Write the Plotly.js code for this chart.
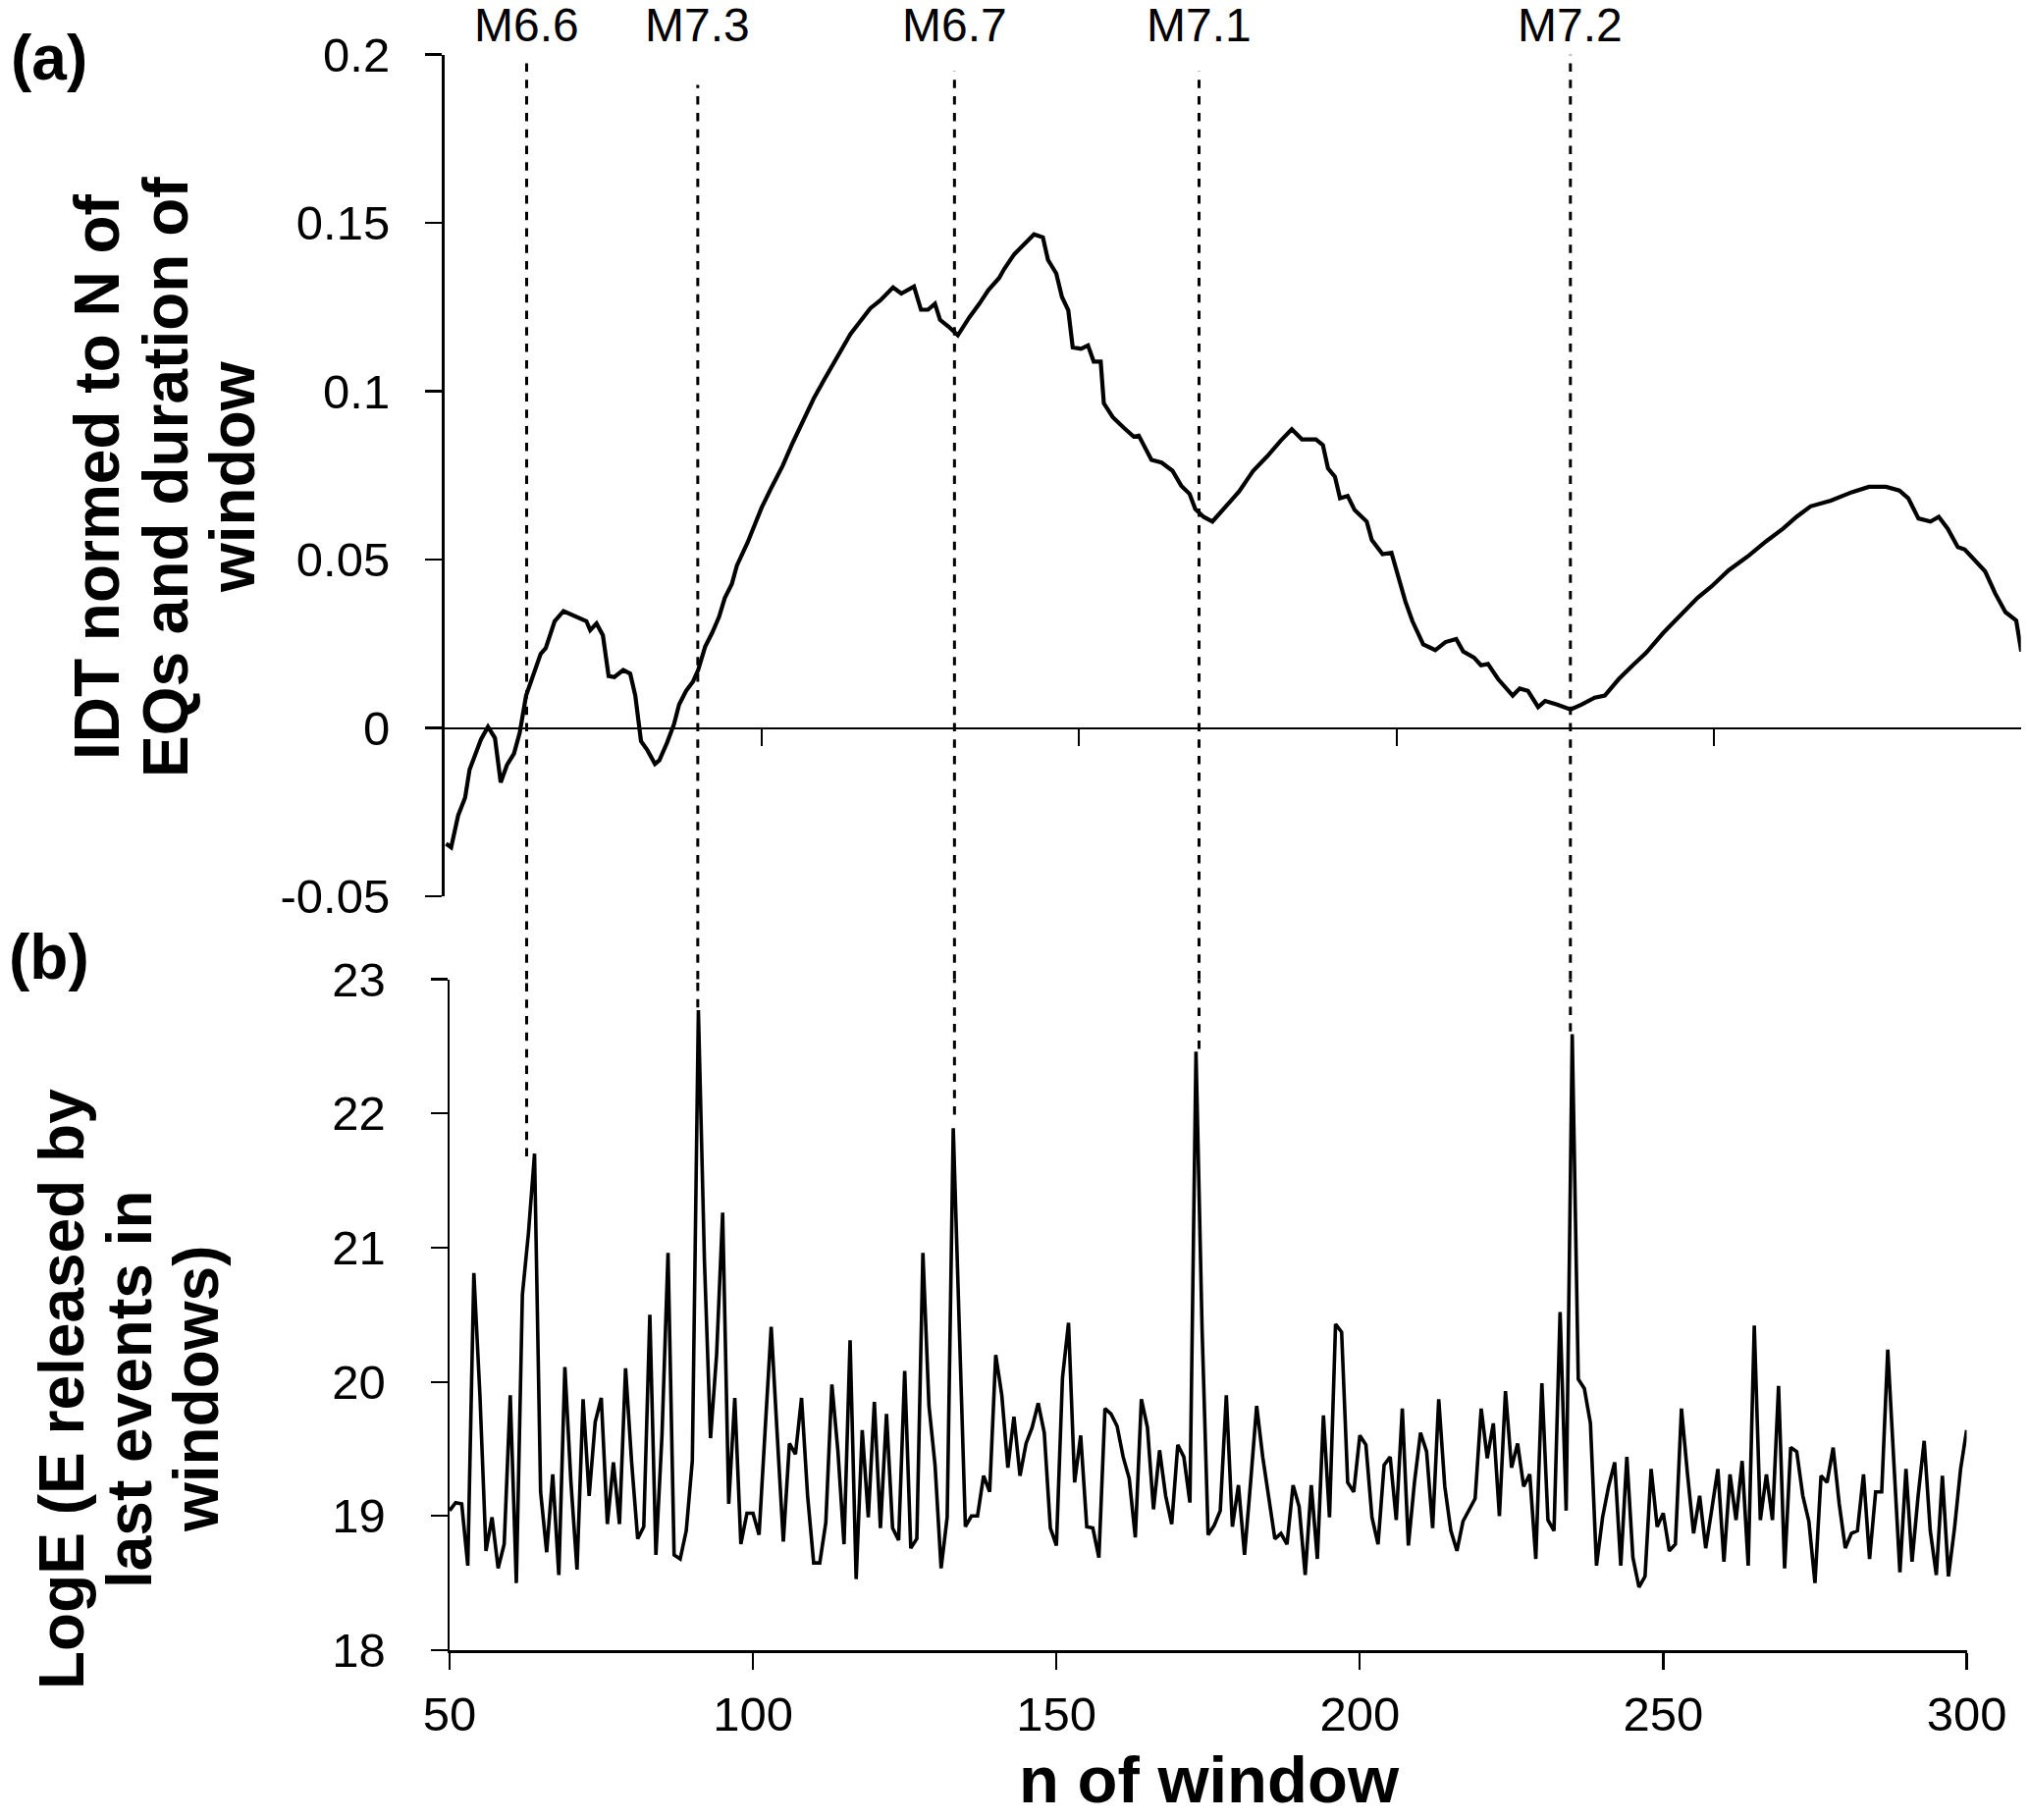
<!DOCTYPE html>
<html>
<head>
<meta charset="utf-8">
<script src="https://cdn.plot.ly/plotly-3.0.1.min.js"></script>
<style>html,body{margin:0;padding:0;background:#fff;}</style>
</head>
<body>
<div id="chart"></div>
<script>
// (a) IDT normed to N of EQs and duration of window (digitised: window n, value)
const idtWindow = [
50.3,51.1,52.2,53.3,54.0,55.0,55.8,56.9,58.0,58.9,59.9,61.0,61.9,62.9,64.1,65.2,66.0,67.4,68.8,70.7,
72.4,73.0,74.0,75.0,75.9,76.8,78.2,79.3,80.1,81.0,82.0,83.2,83.9,85.1,86.2,87.0,88.1,89.2,90.0,91.1,
92.2,93.3,94.2,95.3,96.1,97.8,100.0,101.6,103.3,104.9,106.6,108.2,109.9,111.8,114.0,117.1,118.7,120.7,122.0,124.0,
125.1,126.2,127.3,128.1,129.5,130.9,132.7,134.3,135.7,137.4,138.2,139.8,141.5,142.9,144.3,145.1,146.4,147.3,148.3,149.0,
150.3,151.4,152.3,153.4,153.9,155.3,157.0,158.6,159.4,161.4,163.0,164.7,166.1,167.4,168.3,169.6,171.0,173.0,175.2,177.4,
179.6,181.8,183.5,185.1,187.3,188.4,189.2,190.3,191.1,192.3,193.4,195.3,196.1,197.8,199.2,201.4,202.5,204.2,206.1,207.7,
209.4,210.5,212.2,213.3,214.4,216.0,216.7,218.3,219.4,220.7,222.3,223.4,225.3,227.4,229.1,231.2,232.8,235.0,237.2,239.3,
242.0,244.2,247.4,249.6,252.3,255.5,258.2,260.9,263.0,265.2,268.4,271.7,274.4,277.1,279.2,280.6,282.2,284.1,285.4,286.8,
288.4,289.5,291.1,292.7,294.3,295.9,297.6,298.4
];
const idtValue = [
-0.0344,-0.0355,-0.0260,-0.0207,-0.0124,-0.0076,-0.0034,0.0003,-0.0030,-0.0162,-0.0110,-0.0076,-0.0014,0.0096,0.0165,0.0220,0.0237,0.0317,0.0347,0.0330,
0.0317,0.0290,0.0310,0.0275,0.0154,0.0151,0.0172,0.0161,0.0096,-0.0039,-0.0066,-0.0107,-0.0096,-0.0044,0.0011,0.0069,0.0110,0.0138,0.0172,0.0241,
0.0282,0.0330,0.0386,0.0427,0.0482,0.0551,0.0654,0.0716,0.0778,0.0847,0.0916,0.0978,0.1036,0.1100,0.1170,0.1246,0.1270,0.1308,0.1290,0.1311,
0.1242,0.1242,0.1260,0.1212,0.1191,0.1166,0.1219,0.1260,0.1300,0.1336,0.1363,0.1407,0.1439,0.1466,0.1457,0.1390,0.1350,0.1280,0.1240,0.1130,
0.1126,0.1136,0.1088,0.1088,0.0964,0.0923,0.0892,0.0865,0.0868,0.0796,0.0788,0.0764,0.0719,0.0695,0.0650,0.0627,0.0613,0.0654,0.0702,0.0763,
0.0806,0.0854,0.0887,0.0857,0.0857,0.0840,0.0771,0.0746,0.0682,0.0689,0.0647,0.0613,0.0558,0.0516,0.0520,0.0375,0.0317,0.0248,0.0231,0.0255,
0.0264,0.0227,0.0209,0.0186,0.0190,0.0145,0.0131,0.0096,0.0117,0.0110,0.0062,0.0080,0.0069,0.0055,0.0069,0.0090,0.0096,0.0145,0.0186,0.0223,
0.0282,0.0324,0.0386,0.0420,0.0468,0.0512,0.0554,0.0592,0.0627,0.0658,0.0675,0.0700,0.0716,0.0716,0.0705,0.0682,0.0622,0.0613,0.0627,0.0592,
0.0537,0.0530,0.0496,0.0465,0.0399,0.0344,0.0319,0.0227
];

// (b) LogE released by last events in windows, windows 50..300
const logEStart = 50;
const logE = [
19.04,19.10,19.09,18.63,20.81,19.90,18.74,18.99,18.61,18.79,
19.90,18.50,20.65,21.11,21.70,19.18,18.73,19.31,18.56,20.11,
19.25,18.60,19.87,19.15,19.70,19.88,18.94,19.40,18.94,20.10,
19.40,18.83,18.92,20.50,18.71,19.60,20.96,18.71,18.68,18.89,
19.41,22.77,20.90,19.58,20.20,21.26,19.09,19.88,18.79,19.02,
19.02,18.86,19.64,20.41,19.60,18.81,19.54,19.46,19.88,19.15,
18.65,18.65,18.95,19.98,19.48,18.79,20.31,18.53,19.64,18.99,
19.85,18.91,19.76,18.91,18.82,20.08,18.76,18.83,20.96,19.82,
19.38,18.61,18.99,21.89,20.40,18.92,19.00,19.00,19.30,19.18,
20.20,19.90,19.36,19.74,19.30,19.54,19.66,19.84,19.62,18.91,
18.78,20.03,20.44,19.25,19.60,18.92,18.91,18.69,19.80,19.76,
19.67,19.44,19.28,18.84,19.87,19.66,19.05,19.49,19.15,18.94,
19.53,19.44,19.10,22.46,20.40,18.86,18.93,19.04,19.90,18.92,
19.23,18.71,19.25,19.82,19.44,19.15,18.83,18.87,18.79,19.23,
19.07,18.56,19.23,18.68,19.75,18.99,20.43,20.37,19.25,19.18,
19.60,19.53,18.99,18.79,19.38,19.44,18.97,19.80,18.78,19.25,
19.62,19.48,18.91,19.87,19.22,18.89,18.74,18.96,19.05,19.13,
19.80,19.43,19.69,19.00,19.93,19.36,19.54,19.22,19.31,18.68,
19.99,18.97,18.89,20.52,19.04,22.59,20.02,19.95,19.69,18.63,
18.99,19.22,19.40,18.63,19.44,18.69,18.47,18.55,19.35,18.92,
19.02,18.74,18.79,19.80,19.31,18.87,19.15,18.76,19.05,19.35,
18.66,19.31,18.97,19.41,18.63,20.42,18.97,19.31,18.97,19.97,
18.61,19.51,19.48,19.15,18.96,18.50,19.30,19.25,19.51,19.09,
18.76,18.87,18.89,19.31,18.68,19.18,19.18,20.24,19.40,18.58,
19.35,18.66,19.15,19.56,18.89,18.56,19.30,18.55,18.91,19.35,
19.64
];
const logEWindow = logE.map((_, i) => logEStart + i);

// Earthquake markers (dotted lines)
const eqLabels = ['M6.6', 'M7.3', 'M6.7', 'M7.1', 'M7.2'];
const eqWindow = [62.7, 90.9, 133.2, 173.5, 234.7];
const eqTopLevel = [0.199, 0.191, 0.195, 0.195, 0.2];     // start in panel (a)
const eqBottomLevel = [21.68, 22.79, 21.99, 22.48, 22.61]; // end in panel (b)

// tick labels
const xTicksB = [50, 100, 150, 200, 250, 300];
const yTicksB = [18, 19, 20, 21, 22, 23];
const xTicksA = [100, 150, 200, 250];
const yTicksA = [-0.05, 0, 0.05, 0.1, 0.15, 0.2];
const yTickTextA = ['-0.05', '0', '0.05', '0.1', '0.15', '0.2'];

const FONT = 'Liberation Sans, Arial, Helvetica, sans-serif';
const W = 2067, H = 1854;
const domB_y = [0.09331, 0.46197];
const domA_y = [0.50755, 0.97006];
const rangeA = [-0.05, 0.2];
const zeroPosA = domA_y[0] + (0 - rangeA[0]) / (rangeA[1] - rangeA[0]) * (domA_y[1] - domA_y[0]);

const traces = [
  {x: idtWindow, y: idtValue, xaxis: 'x2', yaxis: 'y2', type: 'scatter', mode: 'lines',
   line: {color: '#000', width: 4.2}, hoverinfo: 'skip'},
  {x: logEWindow, y: logE, xaxis: 'x', yaxis: 'y', type: 'scatter', mode: 'lines',
   line: {color: '#000', width: 3.6}, hoverinfo: 'skip'}
];

const dashStyle = {color: '#000', width: 3, dash: '8.5px,8.3px'};
const shapes = [];
eqWindow.forEach((w, i) => {
  shapes.push({type: 'line', xref: 'x', yref: 'y', x0: w, x1: w, y0: eqBottomLevel[i], y1: 23, line: dashStyle});
  shapes.push({type: 'line', xref: 'x', yref: 'paper', x0: w, x1: w, y0: domB_y[1], y1: domA_y[0], line: dashStyle});
  shapes.push({type: 'line', xref: 'x', yref: 'y2', x0: w, x1: w, y0: rangeA[0], y1: eqTopLevel[i], line: dashStyle});
});

const annotations = [];
eqWindow.forEach((w, i) => {
  annotations.push({text: eqLabels[i], xref: 'x', yref: 'paper', x: w, y: 1 - 26 / H,
    xanchor: 'center', yanchor: 'middle', showarrow: false, font: {family: FONT, size: 48, color: '#000'}});
});
const titleFont = {family: FONT, size: 64, color: '#000'};
const titleLinesA = ['IDT normed to N of', 'EQs and duration of', 'window'];
const titleXA = [99, 169, 237];
titleLinesA.forEach((t, i) => annotations.push({text: '<b>' + t + '</b>', xref: 'paper', yref: 'paper',
  x: titleXA[i] / W, y: 1 - 486 / H, textangle: -90, xanchor: 'center', yanchor: 'middle', showarrow: false, font: titleFont}));
const titleLinesB = ['LogE (E released by', 'last events in', 'windows)'];
const titleXB = [63, 132, 200];
titleLinesB.forEach((t, i) => annotations.push({text: '<b>' + t + '</b>', xref: 'paper', yref: 'paper',
  x: titleXB[i] / W, y: 1 - 1415 / H, textangle: -90, xanchor: 'center', yanchor: 'middle', showarrow: false, font: titleFont}));
annotations.push({text: '<b>n of window</b>', xref: 'paper', yref: 'paper', x: 1232 / W, y: 1 - 1812 / H,
  xanchor: 'center', yanchor: 'middle', showarrow: false, font: {family: FONT, size: 67, color: '#000'}});
annotations.push({text: '<b>(a)</b>', xref: 'paper', yref: 'paper', x: 50 / W, y: 1 - 59 / H,
  xanchor: 'center', yanchor: 'middle', showarrow: false, font: titleFont});
annotations.push({text: '<b>(b)</b>', xref: 'paper', yref: 'paper', x: 50 / W, y: 1 - 975 / H,
  xanchor: 'center', yanchor: 'middle', showarrow: false, font: titleFont});

const axCommon = {showline: true, linecolor: '#000', linewidth: 2.5, ticks: 'outside', ticklen: 17,
  tickwidth: 2.2, tickcolor: '#000', showgrid: false, zeroline: false, fixedrange: true,
  tickfont: {family: FONT, size: 49, color: '#000'}};

const layout = {
  width: W, height: H,
  margin: {l: 0, r: 0, t: 0, b: 0},
  paper_bgcolor: '#fff', plot_bgcolor: 'rgba(0,0,0,0)',
  showlegend: false,
  font: {family: FONT, color: '#000'},
  xaxis: Object.assign({}, axCommon, {domain: [458 / W, 2003.5 / W], range: [50, 300], anchor: 'y',
    tickmode: 'array', tickvals: xTicksB, ticktext: xTicksB.map(String), ticklabelstandoff: 4}),
  yaxis: Object.assign({}, axCommon, {domain: domB_y, range: [18, 23], anchor: 'x',
    tickmode: 'array', tickvals: yTicksB, ticktext: yTicksB.map(String), ticklabelstandoff: 36}),
  xaxis2: Object.assign({}, axCommon, {domain: [452.5 / W, 2058.7 / W], range: [50, 298.33], anchor: 'free',
    position: zeroPosA, tickmode: 'array', tickvals: xTicksA, showticklabels: false}),
  yaxis2: Object.assign({}, axCommon, {domain: domA_y, range: rangeA, anchor: 'x2',
    tickmode: 'array', tickvals: yTicksA, ticktext: yTickTextA, ticklabelstandoff: 26}),
  shapes: shapes,
  annotations: annotations
};

Plotly.newPlot('chart', traces, layout, {staticPlot: true, displayModeBar: false});
</script>
</body>
</html>
